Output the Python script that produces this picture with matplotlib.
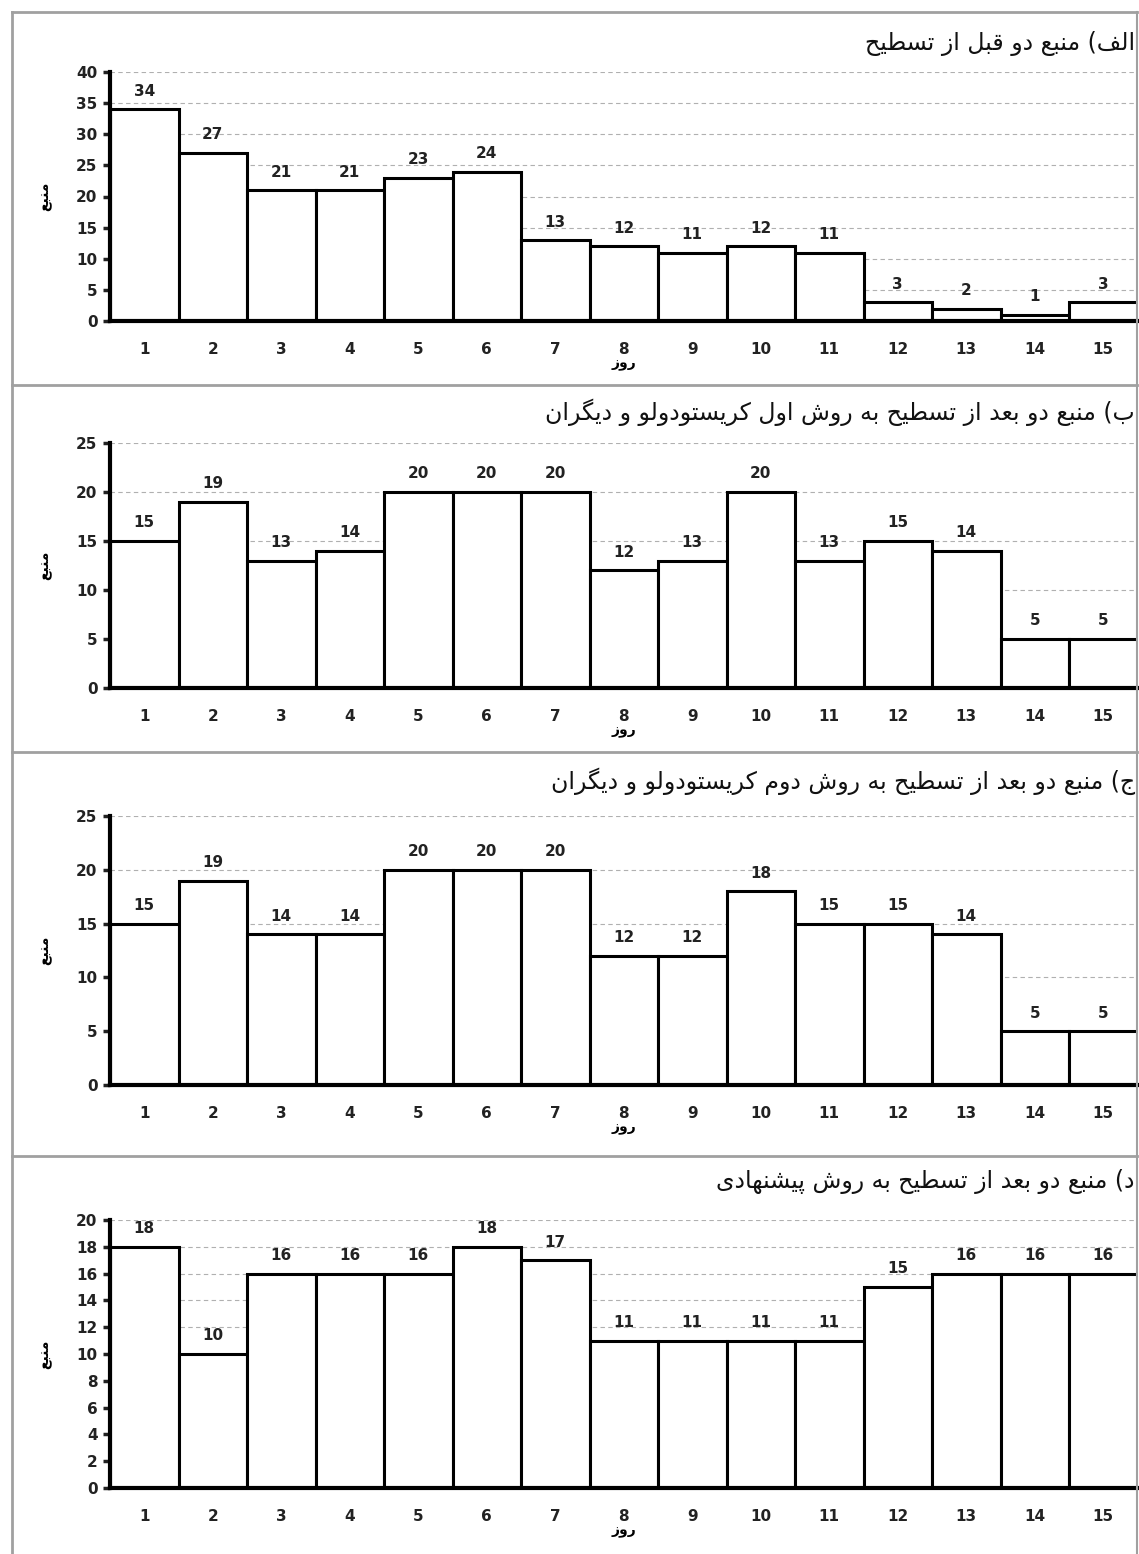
"""Four stacked bar panels: source two before / after levelling (Persian labels)."""
import matplotlib

matplotlib.use("Agg")
import matplotlib.pyplot as plt
from matplotlib.lines import Line2D

# ---------------------------------------------------------------------------
# Data
# ---------------------------------------------------------------------------
days = list(range(1, 16))

vals_a = [34, 27, 21, 21, 23, 24, 13, 12, 11, 12, 11, 3, 2, 1, 3]
vals_b = [15, 19, 13, 14, 20, 20, 20, 12, 13, 20, 13, 15, 14, 5, 5]
vals_c = [15, 19, 14, 14, 20, 20, 20, 12, 12, 18, 15, 15, 14, 5, 5]
vals_d = [18, 10, 16, 16, 16, 18, 17, 11, 11, 11, 11, 15, 16, 16, 16]

titles = [
    "الف) منبع دو قبل از تسطیح",
    "ب) منبع دو بعد از تسطیح به روش اول کریستودولو و دیگران",
    "ج) منبع دو بعد از تسطیح به روش دوم کریستودولو و دیگران",
    "د) منبع دو بعد از تسطیح به روش پیشنهادی",
]
ylabel = "منبع"
xlabel = "روز"

yticks_a = list(range(0, 41, 5))
yticks_b = list(range(0, 26, 5))
yticks_c = list(range(0, 26, 5))
yticks_d = list(range(0, 21, 2))

# ---------------------------------------------------------------------------
# Minimal Persian shaping (no arabic_reshaper available)
# ---------------------------------------------------------------------------
FORMS = {
    "ا": ("\uFE8D", "\uFE8E", None, None),
    "ب": ("\uFE8F", "\uFE90", "\uFE91", "\uFE92"),
    "ت": ("\uFE95", "\uFE96", "\uFE97", "\uFE98"),
    "ج": ("\uFE9D", "\uFE9E", "\uFE9F", "\uFEA0"),
    "ح": ("\uFEA1", "\uFEA2", "\uFEA3", "\uFEA4"),
    "د": ("\uFEA9", "\uFEAA", None, None),
    "ر": ("\uFEAD", "\uFEAE", None, None),
    "ز": ("\uFEAF", "\uFEB0", None, None),
    "س": ("\uFEB1", "\uFEB2", "\uFEB3", "\uFEB4"),
    "ش": ("\uFEB5", "\uFEB6", "\uFEB7", "\uFEB8"),
    "ط": ("\uFEC1", "\uFEC2", "\uFEC3", "\uFEC4"),
    "ع": ("\uFEC9", "\uFECA", "\uFECB", "\uFECC"),
    "ف": ("\uFED1", "\uFED2", "\uFED3", "\uFED4"),
    "ق": ("\uFED5", "\uFED6", "\uFED7", "\uFED8"),
    "ل": ("\uFEDD", "\uFEDE", "\uFEDF", "\uFEE0"),
    "م": ("\uFEE1", "\uFEE2", "\uFEE3", "\uFEE4"),
    "ن": ("\uFEE5", "\uFEE6", "\uFEE7", "\uFEE8"),
    "ه": ("\uFEE9", "\uFEEA", "\uFEEB", "\uFEEC"),
    "و": ("\uFEED", "\uFEEE", None, None),
    "پ": ("\uFB56", "\uFB57", "\uFB58", "\uFB59"),
    "ک": ("\uFB8E", "\uFB8F", "\uFB90", "\uFB91"),
    "گ": ("\uFB92", "\uFB93", "\uFB94", "\uFB95"),
    "ی": ("\uFBFC", "\uFBFD", "\uFBFE", "\uFBFF"),
}
MIRROR = {"(": ")", ")": "("}


def fa(text):
    out = []
    n = len(text)
    for i, ch in enumerate(text):
        if ch not in FORMS:
            out.append(MIRROR.get(ch, ch))
            continue
        prev = text[i - 1] if i > 0 else ""
        nxt = text[i + 1] if i + 1 < n else ""
        iso, fin, ini, med = FORMS[ch]
        join_prev = prev in FORMS and FORMS[prev][2] is not None
        join_next = nxt in FORMS and ini is not None
        if join_prev and join_next:
            out.append(med)
        elif join_prev:
            out.append(fin)
        elif join_next:
            out.append(ini)
        else:
            out.append(iso)
    return "".join(reversed(out))


# ---------------------------------------------------------------------------
# Figure
# ---------------------------------------------------------------------------
W, H = 1139, 1554
fig = plt.figure(figsize=(W / 100, H / 100), dpi=100)
plt.rcParams["font.family"] = ["DejaVu Sans"]

# (top px, bottom px) of each plotting area
boxes = [(72, 321), (443, 688), (816, 1085), (1220, 1488)]
title_y = [43, 412, 781, 1181]
series = [vals_a, vals_b, vals_c, vals_d]
ytick_sets = [yticks_a, yticks_b, yticks_c, yticks_d]

left_px, right_px = 110, 1137.5

for k in range(4):
    top, bot = boxes[k]
    ax = fig.add_axes([left_px / W, 1 - bot / H, (right_px - left_px) / W, (bot - top) / H])
    vals = series[k]
    yt = ytick_sets[k]

    ax.bar(days, vals, width=1.0, color="white", edgecolor="black", linewidth=2.2, zorder=2)
    for d, v in zip(days, vals):
        ax.annotate(str(v), (d, v), xytext=(0, 13), textcoords="offset points",
                    ha="center", va="center", fontsize=11, fontweight="bold", color="#222222",
                    zorder=3)

    ax.set_xlim(0.5, 15.5)
    ax.set_ylim(0, yt[-1])
    ax.set_yticks(yt)
    ax.set_xticks(days)
    ax.set_yticklabels([str(t) for t in yt], fontsize=11, fontweight="bold")
    ax.set_xticklabels([str(d) for d in days], fontsize=11, fontweight="bold")
    ax.tick_params(axis="y", length=5, width=2.5, pad=4, colors="#222222")
    ax.tick_params(axis="x", length=0, pad=15, colors="#222222")

    ax.yaxis.grid(True, linestyle=(0, (4, 3)), color="#b0b0b0", linewidth=0.8)
    ax.set_axisbelow(True)

    for side in ("top", "right"):
        ax.spines[side].set_visible(False)
    for side in ("left", "bottom"):
        ax.spines[side].set_linewidth(3)
        ax.spines[side].set_color("black")
    ax.spines["bottom"].set_zorder(4)

    ax.set_xlabel(fa(xlabel), fontsize=10, fontweight="bold", labelpad=0)
    ax.text(45 / W, 1 - (top + bot) / 2 / H, fa(ylabel), transform=fig.transFigure,
            rotation=90, ha="center", va="center", fontsize=10, fontweight="bold")

    fig.text(1135 / W, 1 - title_y[k] / H, fa(titles[k]), ha="right", va="center",
             fontsize=17, color="#111111")

# panel frame lines
frame_col = "#a0a0a0"
for y in (12, 385, 752, 1156):
    fig.add_artist(Line2D([12 / W, 1137 / W], [1 - y / H, 1 - y / H],
                          transform=fig.transFigure, color=frame_col, linewidth=2))
fig.add_artist(Line2D([12 / W, 12 / W], [1 - 12 / H, 0], transform=fig.transFigure,
                      color=frame_col, linewidth=2))
fig.add_artist(Line2D([1137 / W, 1137 / W], [1 - 12 / H, 0], transform=fig.transFigure,
                      color=frame_col, linewidth=1.5))

fig.savefig("out.png", dpi=100)
print("wrote out.png")
